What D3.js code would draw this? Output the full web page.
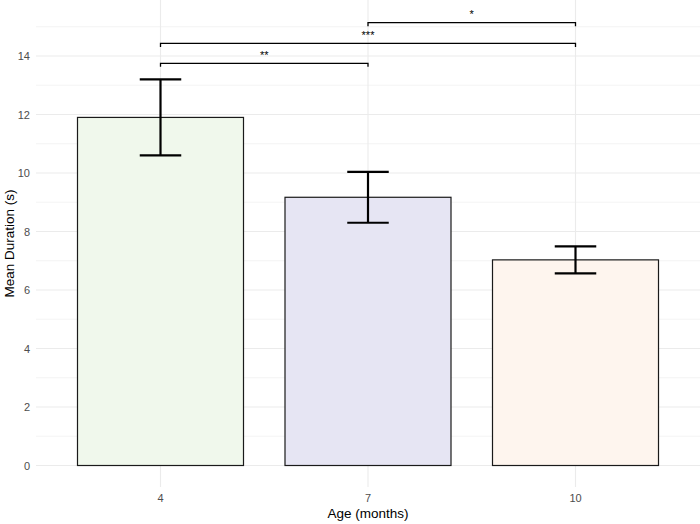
<!DOCTYPE html>
<html>
<head>
<meta charset="utf-8">
<script src="https://cdn.jsdelivr.net/npm/d3@7"></script>
<style>
  body { margin: 0; background: #fff; }
  text { font-family: "Liberation Sans", Arial, sans-serif; }
</style>
</head>
<body>
<div id="chart"></div>
<script>
// chart data
var ages = ["4", "7", "10"];
var meanDuration = [11.9, 9.17, 7.03];
var errLow = [10.6, 8.3, 6.57];
var errHigh = [13.2, 10.04, 7.49];
var barColors = ["#F0F8EC", "#E6E5F3", "#FEF5EE"];
var yTicks = [0, 2, 4, 6, 8, 10, 12, 14];
var yMinor = [1, 3, 5, 7, 9, 11, 13, 15];
// significance brackets: from, to, height, label
var sigFrom = ["4", "4", "7"];
var sigTo = ["7", "10", "10"];
var sigY = [13.75, 14.43, 15.14];
var sigLabel = ["**", "***", "*"];

var width = 700, height = 524;
var panel = { left: 36, right: 700, top: 0, bottom: 487 };

var svg = d3.select("#chart").append("svg")
    .attr("width", width)
    .attr("height", height);

// discrete x like ggplot: categories at 1..n, range expanded 0.6
var xIndex = d3.scaleLinear()
    .domain([0.4, ages.length + 0.6])
    .range([panel.left, panel.right]);
var xPos = function(a) { return xIndex(ages.indexOf(a) + 1); };
var step = xIndex(2) - xIndex(1);

var y = d3.scaleLinear()
    .domain([0, 14])
    .range([465.5, 56]);

// grid
svg.append("g").selectAll("line").data(yMinor).enter().append("line")
    .attr("x1", panel.left).attr("x2", panel.right)
    .attr("y1", d => y(d)).attr("y2", d => y(d))
    .attr("stroke", "#EDEDED").attr("stroke-width", 0.6);
svg.append("g").selectAll("line").data(yTicks).enter().append("line")
    .attr("x1", panel.left).attr("x2", panel.right)
    .attr("y1", d => y(d)).attr("y2", d => y(d))
    .attr("stroke", "#EBEBEB").attr("stroke-width", 1.1);
svg.append("g").selectAll("line").data(ages).enter().append("line")
    .attr("x1", d => xPos(d)).attr("x2", d => xPos(d))
    .attr("y1", panel.top).attr("y2", panel.bottom)
    .attr("stroke", "#EBEBEB").attr("stroke-width", 1.1);

// bars
svg.append("g").selectAll("rect").data(ages).enter().append("rect")
    .attr("x", d => xPos(d) - step * 0.4)
    .attr("width", step * 0.8)
    .attr("y", (d, i) => y(meanDuration[i]))
    .attr("height", (d, i) => y(0) - y(meanDuration[i]))
    .attr("fill", (d, i) => barColors[i])
    .attr("stroke", "#1a1a1a")
    .attr("stroke-width", 1.2);

// error bars
var eb = svg.append("g").attr("stroke", "#000").attr("stroke-width", 2.2).attr("fill", "none");
ages.forEach(function(a, i) {
    var cx = xPos(a), hw = step * 0.1;
    eb.append("line").attr("x1", cx).attr("x2", cx).attr("y1", y(errLow[i])).attr("y2", y(errHigh[i]));
    eb.append("line").attr("x1", cx - hw).attr("x2", cx + hw).attr("y1", y(errHigh[i])).attr("y2", y(errHigh[i]));
    eb.append("line").attr("x1", cx - hw).attr("x2", cx + hw).attr("y1", y(errLow[i])).attr("y2", y(errLow[i]));
});

// significance brackets
var sig = svg.append("g");
sigLabel.forEach(function(lab, i) {
    var x1 = xPos(sigFrom[i]), x2 = xPos(sigTo[i]), yy = y(sigY[i]);
    sig.append("path")
        .attr("d", "M" + x1 + "," + (yy + 3.5) + "V" + yy + "H" + x2 + "V" + (yy + 3.5))
        .attr("fill", "none").attr("stroke", "#000").attr("stroke-width", 1.3);
    sig.append("text")
        .attr("x", (x1 + x2) / 2).attr("y", yy - 4.5)
        .attr("text-anchor", "middle")
        .attr("font-size", 11).attr("fill", "#000")
        .text(lab);
});

// axis labels
svg.append("g").selectAll("text").data(yTicks).enter().append("text")
    .attr("x", 30).attr("y", d => y(d) + 4)
    .attr("text-anchor", "end")
    .attr("font-size", 11).attr("fill", "#4D4D4D")
    .text(d => d);
svg.append("g").selectAll("text").data(ages).enter().append("text")
    .attr("x", d => xPos(d)).attr("y", 502)
    .attr("text-anchor", "middle")
    .attr("font-size", 11).attr("fill", "#4D4D4D")
    .text(d => d);

svg.append("text")
    .attr("x", (panel.left + panel.right) / 2).attr("y", 518)
    .attr("text-anchor", "middle")
    .attr("font-size", 13.5).attr("fill", "#000")
    .text("Age (months)");
svg.append("text")
    .attr("transform", "translate(14," + ((panel.top + panel.bottom) / 2) + ") rotate(-90)")
    .attr("text-anchor", "middle")
    .attr("font-size", 13.5).attr("fill", "#000")
    .text("Mean Duration (s)");
</script>
</body>
</html>
